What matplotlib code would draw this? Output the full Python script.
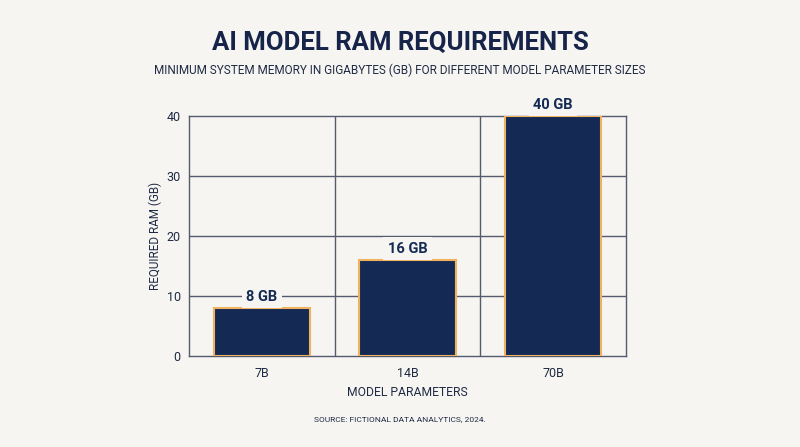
import matplotlib
matplotlib.use("Agg")
import matplotlib.pyplot as plt

categories = ["7B", "14B", "70B"]
ram_gb = [8, 16, 40]
bar_labels = ["8 GB", "16 GB", "40 GB"]
yticks = [0, 10, 20, 30, 40]

BG = "#f6f5f1"
NAVY = "#142a55"
EDGE = "#f0b25e"
GRID = "#555b6e"
TEXT = "#1f2a44"

plt.rcParams['font.family'] = ['Roboto', 'DejaVu Sans']

fig = plt.figure(figsize=(8, 4.47), dpi=100, facecolor=BG)
ax = fig.add_axes([189/800, 1-356/447, (626-189)/800, (356-116)/447])
ax.set_facecolor(BG)

x = list(range(len(categories)))
ax.bar(x, ram_gb, width=0.66, color=NAVY, edgecolor=EDGE, linewidth=1.5, zorder=3)

ax.set_xlim(-0.5, len(categories) - 0.5)
ax.set_ylim(0, 40)
ax.set_yticks(yticks)
ax.set_xticks(x)
ax.set_xticklabels(categories)
ax.tick_params(length=0, labelsize=9, colors=TEXT, pad=8)
ax.tick_params(axis='y', pad=6)

for yv in yticks[1:-1]:
    ax.axhline(yv, color=GRID, linewidth=1, zorder=1)
for xv in [0.5, 1.5]:
    ax.axvline(xv, color=GRID, linewidth=1, zorder=1)
for s in ax.spines.values():
    s.set_color(GRID)
    s.set_linewidth(1)

for xi, v, lab in zip(x, ram_gb, bar_labels):
    ax.annotate(lab, (xi, v), xytext=(0, 3), textcoords='offset points',
                ha='center', va='bottom', fontsize=10.5, fontweight='bold', color=NAVY,
                bbox=dict(boxstyle='square,pad=0.3', facecolor=BG, edgecolor='none'),
                zorder=5, annotation_clip=False)

ax.set_ylabel("REQUIRED RAM (GB)", fontsize=8.4, color=TEXT, labelpad=3)
ax.set_xlabel("MODEL PARAMETERS", fontsize=8.7, color=TEXT, labelpad=4)

fig.text(0.5, 1-43/447, "AI MODEL RAM REQUIREMENTS", ha='center', va='center',
         fontsize=18.5, fontweight='bold', color="#17244a")
fig.text(0.5, 1-70/447, "MINIMUM SYSTEM MEMORY IN GIGABYTES (GB) FOR DIFFERENT MODEL PARAMETER SIZES",
         ha='center', va='center', fontsize=8.5, color=TEXT)
fig.text(0.5, 1-419/447, "SOURCE: FICTIONAL DATA ANALYTICS, 2024.", ha='center', va='center',
         fontsize=6, color=TEXT)

fig.savefig("out.png", dpi=100, facecolor=BG)
